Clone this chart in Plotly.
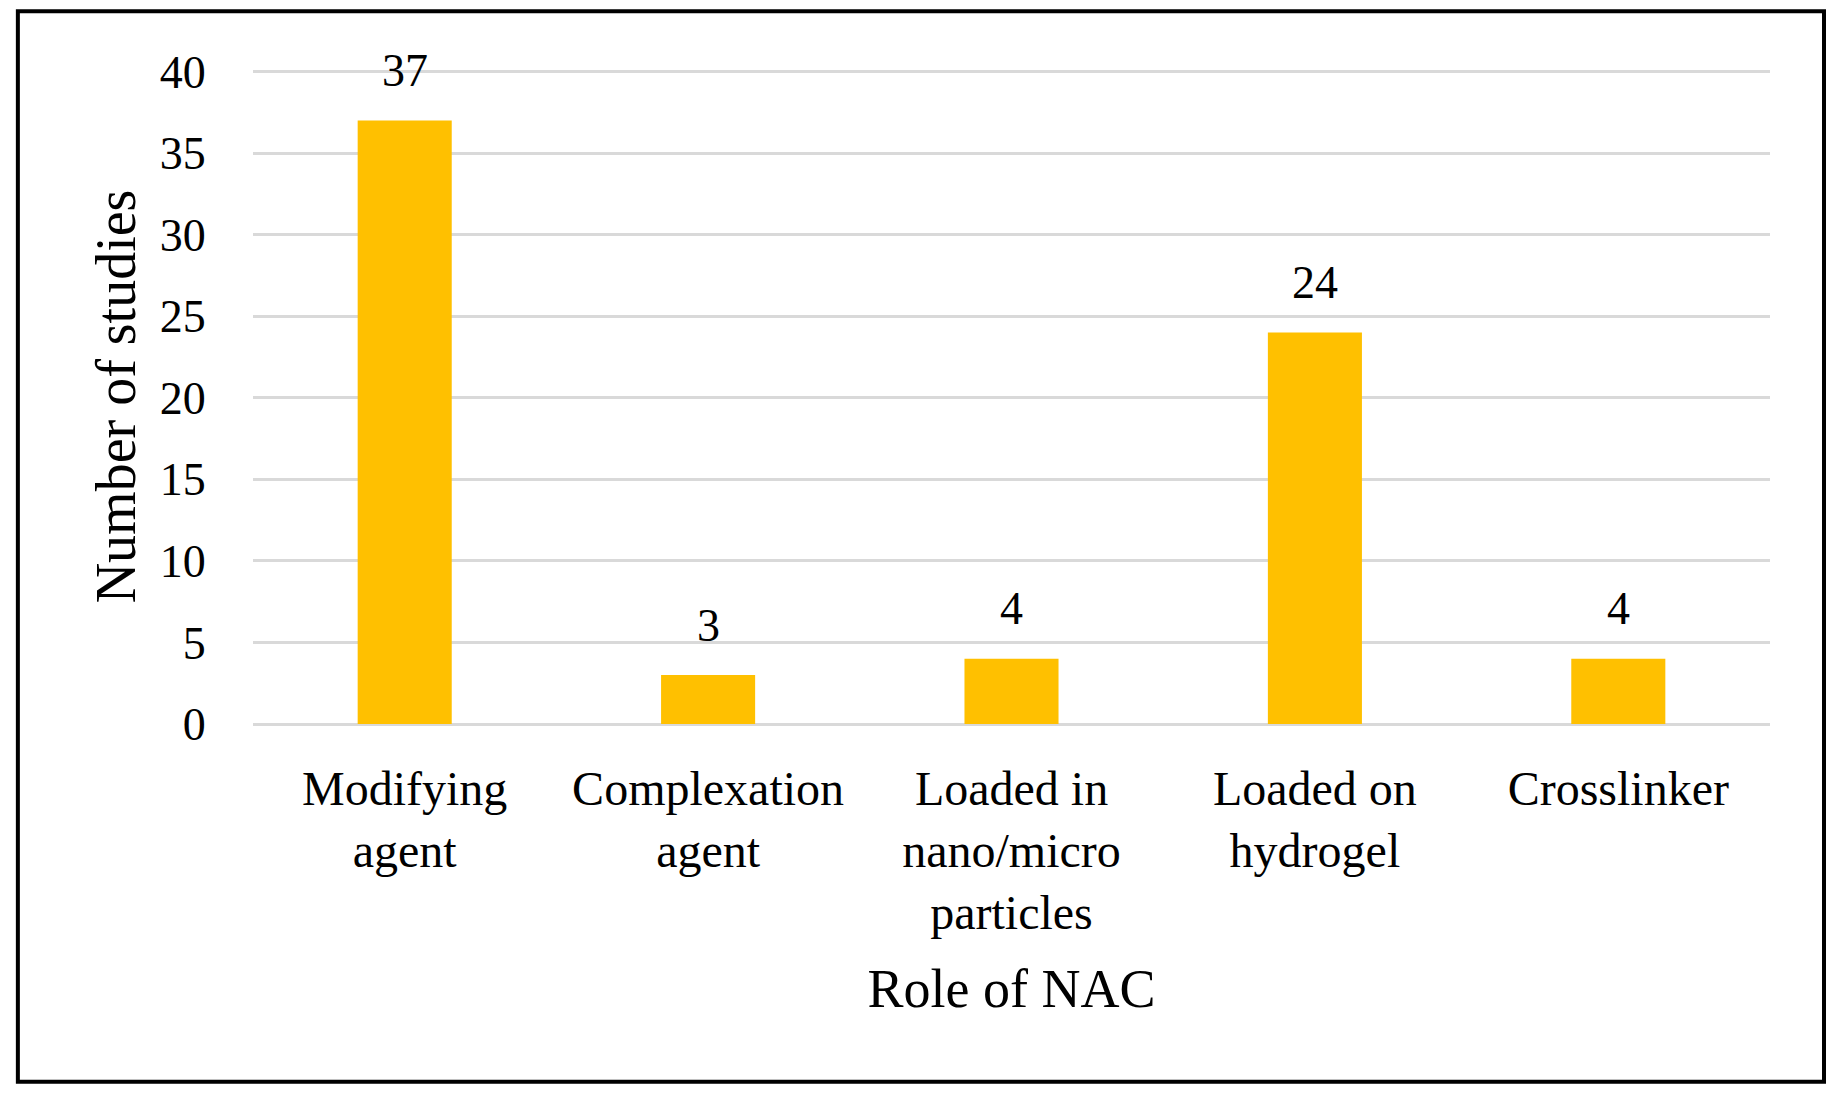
import plotly.graph_objects as go

# role of NAC -> number of studies
roles = ["Modifying<br>agent", "Complexation<br>agent", "Loaded in<br>nano/micro<br>particles",
         "Loaded on<br>hydrogel", "Crosslinker"]
studies = [37, 3, 4, 24, 4]
y_ticks = [0, 5, 10, 15, 20, 25, 30, 35, 40]

FONT = "Liberation Serif"
bar_color = "#FFC000"
grid_color = "#D9D9D9"

fig = go.Figure(go.Bar(x=roles, y=studies, marker=dict(color=bar_color, line=dict(width=0)),
                       hoverinfo="skip"))

# value labels over the bars
for r, v in zip(roles, studies):
    fig.add_annotation(x=r, y=v, text=str(v), showarrow=False, yanchor="middle", yshift=50,
                       font=dict(family=FONT, size=46, color="black"))

# frame round the whole chart
fig.add_shape(type="rect", xref="paper", yref="paper",
              x0=-0.155, x1=1.0356, y0=-0.546, y1=1.088,
              line=dict(color="black", width=4), fillcolor="rgba(0,0,0,0)")

fig.update_layout(
    width=1842, height=1099,
    margin=dict(l=245, r=80, t=61, b=383),
    paper_bgcolor="white", plot_bgcolor="white",
    bargap=0.69, showlegend=False,
    font=dict(family=FONT, size=48, color="black"),
)
fig.update_xaxes(
    title=dict(text="Role of NAC", font=dict(size=54), standoff=30),
    showgrid=False, showline=False, zeroline=False,
    ticks="outside", ticklen=22, tickcolor="rgba(0,0,0,0)",
    tickfont=dict(size=48), automargin=False,
)
fig.update_yaxes(
    title=dict(text="Number of studies", font=dict(size=56), standoff=6),
    range=[0, 40.15], tickvals=y_ticks,
    showgrid=True, gridcolor=grid_color, gridwidth=3,
    zeroline=True, zerolinecolor=grid_color, zerolinewidth=3,
    showline=False, ticks="outside", ticklen=37, tickcolor="rgba(0,0,0,0)",
    tickfont=dict(size=46), automargin=False,
)

fig.write_html("out.html")
